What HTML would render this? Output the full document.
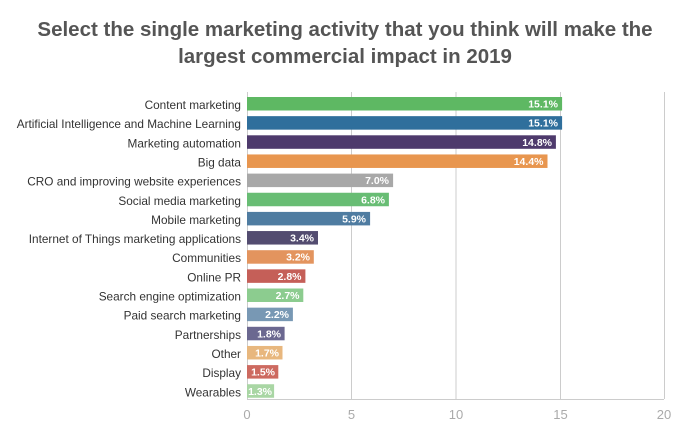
<!DOCTYPE html>
<html><head><style>
body{margin:0;background:#fff;width:700px;height:439px;overflow:hidden;font-family:"Liberation Sans",sans-serif}
</style></head><body>
<svg width="700" height="439" xmlns="http://www.w3.org/2000/svg" font-family="Liberation Sans, sans-serif">
<text x="345" y="36" text-anchor="middle" font-size="20.5" font-weight="bold" fill="#555">Select the single marketing activity that you think will make the</text>
<text x="345" y="63" text-anchor="middle" font-size="20.5" font-weight="bold" fill="#555">largest commercial impact in 2019</text>
<g stroke="#ccc" stroke-width="1">
<line x1="351.5" y1="92" x2="351.5" y2="399"/>
<line x1="456" y1="92" x2="456" y2="399"/>
<line x1="560.5" y1="92" x2="560.5" y2="399"/>
<line x1="664.5" y1="92" x2="664.5" y2="399"/>
<line x1="247" y1="399.5" x2="664" y2="399.5"/>
<line x1="247.5" y1="92" x2="247.5" y2="399"/>
</g>
<g font-size="13" fill="#aaa" text-anchor="middle">
<text x="247" y="419">0</text><text x="351.5" y="419">5</text><text x="456" y="419">10</text><text x="560.5" y="419">15</text><text x="664" y="419">20</text>
</g>
<g font-size="11.8" fill="#333" text-anchor="end">
<text x="241" y="109">Content marketing</text>
<text x="241" y="128.15">Artificial Intelligence and Machine Learning</text>
<text x="241" y="147.3">Marketing automation</text>
<text x="241" y="166.45">Big data</text>
<text x="241" y="185.6">CRO and improving website experiences</text>
<text x="241" y="204.75">Social media marketing</text>
<text x="241" y="223.9">Mobile marketing</text>
<text x="241" y="243.05">Internet of Things marketing applications</text>
<text x="241" y="262.2">Communities</text>
<text x="241" y="281.35">Online PR</text>
<text x="241" y="300.5">Search engine optimization</text>
<text x="241" y="319.65">Paid search marketing</text>
<text x="241" y="338.8">Partnerships</text>
<text x="241" y="357.95">Other</text>
<text x="241" y="377.1">Display</text>
<text x="241" y="396.25">Wearables</text>
</g>
<g>
<rect x="247" y="97" width="315.1" height="13.5" fill="#5eb863"/>
<rect x="247" y="116.15" width="315.1" height="13.5" fill="#2f6f9c"/>
<rect x="247" y="135.3" width="308.9" height="13.5" fill="#4e3a6c"/>
<rect x="247" y="154.45" width="300.5" height="13.5" fill="#e8964f"/>
<rect x="247" y="173.6" width="146.1" height="13.5" fill="#a8a8a8"/>
<rect x="247" y="192.75" width="141.9" height="13.5" fill="#68bd74"/>
<rect x="247" y="211.9" width="123.1" height="13.5" fill="#4f7ca1"/>
<rect x="247" y="231.05" width="71" height="13.5" fill="#534c70"/>
<rect x="247" y="250.2" width="66.8" height="13.5" fill="#e3945e"/>
<rect x="247" y="269.35" width="58.4" height="13.5" fill="#c55f58"/>
<rect x="247" y="288.5" width="56.3" height="13.5" fill="#8ccc8f"/>
<rect x="247" y="307.65" width="45.9" height="13.5" fill="#7898b4"/>
<rect x="247" y="326.8" width="37.6" height="13.5" fill="#6b6890"/>
<rect x="247" y="345.95" width="35.5" height="13.5" fill="#e8b77e"/>
<rect x="247" y="365.1" width="31.3" height="13.5" fill="#cd6a60"/>
<rect x="247" y="384.25" width="27.1" height="13.5" fill="#a9d6a4"/>
</g>
<g font-size="10.5" font-weight="bold" fill="#fff" text-anchor="end">
<text x="558" y="107.5">15.1%</text>
<text x="558" y="126.65">15.1%</text>
<text x="552" y="145.8">14.8%</text>
<text x="543.5" y="164.95">14.4%</text>
<text x="389" y="184.1">7.0%</text>
<text x="385" y="203.25">6.8%</text>
<text x="366" y="222.4">5.9%</text>
<text x="314" y="241.55">3.4%</text>
<text x="310" y="260.7">3.2%</text>
<text x="301.5" y="279.85">2.8%</text>
<text x="299.5" y="299">2.7%</text>
<text x="289" y="318.15">2.2%</text>
<text x="281" y="337.3">1.8%</text>
<text x="279" y="356.45">1.7%</text>
<text x="275" y="375.6">1.5%</text>
<text x="272" y="394.75">1.3%</text>
</g>
</svg>
</body></html>
